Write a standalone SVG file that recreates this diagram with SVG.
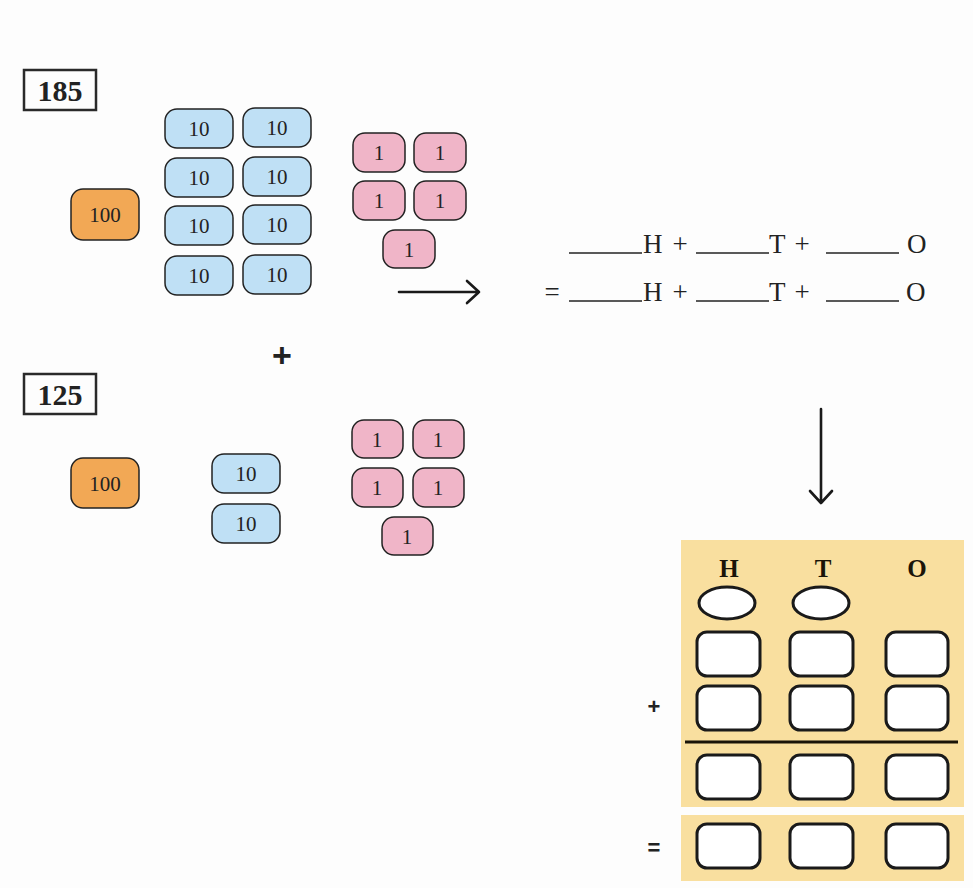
<svg xmlns="http://www.w3.org/2000/svg" width="973" height="888" viewBox="0 0 973 888">
<style>
.lbl{fill:none;stroke:#2a2a2a;stroke-width:2.5}
.num{font-family:"Liberation Serif",serif;font-weight:bold;font-size:30px;fill:#222;text-anchor:middle}
.ten{fill:#bfe0f5;stroke:#222;stroke-width:1.5}
.hun{fill:#f2a855;stroke:#222;stroke-width:1.5}
.one{fill:#f0b5c8;stroke:#222;stroke-width:1.5}
.bt{font-family:"Liberation Serif",serif;font-size:21px;fill:#222;text-anchor:middle;dominant-baseline:central}
.eq{font-family:"Liberation Serif",serif;font-size:27px;fill:#222}
.ul{stroke:#222;stroke-width:1.3}
.arr{fill:none;stroke:#1a1a1a;stroke-width:2.6;stroke-linecap:round;stroke-linejoin:round}
.panel{fill:#f9df9f}
.cell{fill:#fff;stroke:#1a1a1a;stroke-width:3}
.hd{font-family:"Liberation Serif",serif;font-weight:bold;font-size:25px;fill:#1a1408;text-anchor:middle}
.op{font-family:"Liberation Sans",sans-serif;font-weight:bold;fill:#222;text-anchor:middle;dominant-baseline:central}
</style>
<rect x="0" y="0" width="973" height="888" fill="#fdfdfd"/>

<g id="label185"><rect class="lbl" x="24" y="70" width="72" height="40"/><text class="num" x="60" y="101">185</text></g>
<g id="hundred1"><rect class="hun" x="71" y="189" width="68" height="51" rx="12"/><text class="bt" x="105" y="215">100</text></g>
<g id="tens1">
<rect class="ten" x="165" y="109" width="68" height="39" rx="12"/><text class="bt" x="199" y="129">10</text>
<rect class="ten" x="243" y="108" width="68" height="39" rx="12"/><text class="bt" x="277" y="128">10</text>
<rect class="ten" x="165" y="158" width="68" height="39" rx="12"/><text class="bt" x="199" y="178">10</text>
<rect class="ten" x="243" y="157" width="68" height="39" rx="12"/><text class="bt" x="277" y="177">10</text>
<rect class="ten" x="165" y="206" width="68" height="39" rx="12"/><text class="bt" x="199" y="226">10</text>
<rect class="ten" x="243" y="205" width="68" height="39" rx="12"/><text class="bt" x="277" y="225">10</text>
<rect class="ten" x="165" y="256" width="68" height="39" rx="12"/><text class="bt" x="199" y="276">10</text>
<rect class="ten" x="243" y="255" width="68" height="39" rx="12"/><text class="bt" x="277" y="275">10</text>
</g>
<g id="ones1">
<rect class="one" x="353" y="133" width="52" height="39" rx="12"/><text class="bt" x="379" y="153">1</text>
<rect class="one" x="414" y="133" width="52" height="39" rx="12"/><text class="bt" x="440" y="153">1</text>
<rect class="one" x="353" y="181" width="52" height="39" rx="12"/><text class="bt" x="379" y="201">1</text>
<rect class="one" x="414" y="181" width="52" height="39" rx="12"/><text class="bt" x="440" y="201">1</text>
<rect class="one" x="383" y="230" width="52" height="38" rx="12"/><text class="bt" x="409" y="250">1</text>
</g>

<g id="plus"><text class="op" x="282" y="355" font-size="34">+</text></g>

<g id="label125"><rect class="lbl" x="24" y="374" width="72" height="40"/><text class="num" x="60" y="405">125</text></g>
<g id="hundred2"><rect class="hun" x="71" y="458" width="68" height="50" rx="12"/><text class="bt" x="105" y="484">100</text></g>
<g id="tens2">
<rect class="ten" x="212" y="454" width="68" height="39" rx="12"/><text class="bt" x="246" y="474">10</text>
<rect class="ten" x="212" y="504" width="68" height="39" rx="12"/><text class="bt" x="246" y="524">10</text>
</g>
<g id="ones2">
<rect class="one" x="352" y="420" width="51" height="38" rx="12"/><text class="bt" x="377" y="440">1</text>
<rect class="one" x="413" y="420" width="51" height="38" rx="12"/><text class="bt" x="438" y="440">1</text>
<rect class="one" x="352" y="468" width="51" height="39" rx="12"/><text class="bt" x="377" y="488">1</text>
<rect class="one" x="413" y="468" width="51" height="39" rx="12"/><text class="bt" x="438" y="488">1</text>
<rect class="one" x="382" y="517" width="51" height="38" rx="12"/><text class="bt" x="407" y="537">1</text>
</g>

<g id="equation">
<line class="ul" x1="569" y1="253" x2="642" y2="253"/><text class="eq" x="643" y="253">H</text><text class="eq" x="680" y="253" text-anchor="middle">+</text>
<line class="ul" x1="696" y1="253" x2="769" y2="253"/><text class="eq" x="769" y="253">T</text><text class="eq" x="802" y="253" text-anchor="middle">+</text>
<line class="ul" x1="826" y1="253" x2="899" y2="253"/><text class="eq" x="907" y="253">O</text>
<text class="eq" x="552" y="301" text-anchor="middle">=</text>
<line class="ul" x1="569" y1="301" x2="642" y2="301"/><text class="eq" x="643" y="301">H</text><text class="eq" x="680" y="301" text-anchor="middle">+</text>
<line class="ul" x1="696" y1="301" x2="769" y2="301"/><text class="eq" x="769" y="301">T</text><text class="eq" x="802" y="301" text-anchor="middle">+</text>
<line class="ul" x1="826" y1="301" x2="899" y2="301"/><text class="eq" x="906" y="301">O</text>
</g>

<g id="connectors">
<path class="arr" d="M399 292 H479 M467 281 L479 292 L467 303"/>
<path class="arr" d="M821 409 V503 M810 491 L821 503 L832 491"/>
</g>

<g id="hto-table">
<rect class="panel" x="681" y="540" width="283" height="267"/>
<rect class="panel" x="681" y="815" width="283" height="66"/>
<text class="hd" x="729" y="577">H</text>
<text class="hd" x="823" y="577">T</text>
<text class="hd" x="917" y="577">O</text>
<ellipse class="cell" cx="727" cy="603" rx="28" ry="16"/>
<ellipse class="cell" cx="821" cy="603" rx="28" ry="16"/>
<rect class="cell" x="697" y="632" width="63" height="44" rx="10"/>
<rect class="cell" x="790" y="632" width="63" height="44" rx="10"/>
<rect class="cell" x="886" y="632" width="62" height="44" rx="10"/>
<rect class="cell" x="697" y="686" width="63" height="44" rx="10"/>
<rect class="cell" x="790" y="686" width="63" height="44" rx="10"/>
<rect class="cell" x="886" y="686" width="62" height="44" rx="10"/>
<line x1="685" y1="742" x2="958" y2="742" stroke="#1a1408" stroke-width="3"/>
<rect class="cell" x="697" y="755" width="63" height="44" rx="10"/>
<rect class="cell" x="790" y="755" width="63" height="44" rx="10"/>
<rect class="cell" x="886" y="755" width="62" height="44" rx="10"/>
<rect class="cell" x="697" y="824" width="63" height="44" rx="10"/>
<rect class="cell" x="790" y="824" width="63" height="44" rx="10"/>
<rect class="cell" x="886" y="824" width="62" height="44" rx="10"/>
<text class="op" x="654" y="706" font-size="22">+</text>
<text class="op" x="654" y="847" font-size="22">=</text>
</g>
</svg>
